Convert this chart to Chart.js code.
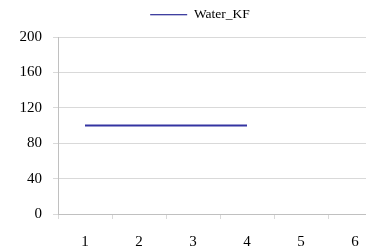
<!DOCTYPE html>
<html>
<head>
<meta charset="utf-8">
<script src="https://cdn.jsdelivr.net/npm/chart.js@4"></script>
<style>
  html, body { margin: 0; padding: 0; background: #fff; overflow: hidden; }
  #wrap { position: absolute; left: 0; top: 0; width: 390px; height: 249px; }
</style>
</head>
<body>
<div id="wrap"><canvas id="c" width="390" height="249"></canvas></div>
<script>
const categories = ['1', '2', '3', '4', '5', '6'];
const waterKF = [100, 100, 100, 100, null, null];
const seriesName = 'Water_KF';
const yTicks = [0, 40, 80, 120, 160, 200];

const serif = "'Liberation Serif', 'Times New Roman', serif";

new Chart(document.getElementById('c'), {
  type: 'line',
  data: {
    labels: categories,
    datasets: [{
      label: seriesName,
      data: waterKF,
      borderColor: '#3434a2',
      backgroundColor: '#3434a2',
      borderWidth: 2,
      pointRadius: 0,
      fill: false,
      tension: 0,
      spanGaps: false
    }]
  },
  options: {
    responsive: false,
    animation: false,
    devicePixelRatio: 1,
    layout: { padding: { left: 18, right: 8, top: 0, bottom: 0 } },
    plugins: {
      tooltip: { enabled: false },
      subtitle: {
        display: true,
        text: '',
        weight: 500,
        font: { size: 5.5, lineHeight: 1 },
        padding: 0
      },
      legend: {
        display: true,
        position: 'top',
        labels: {
          usePointStyle: true,
          pointStyle: 'line',
          pointStyleWidth: 37,
          color: '#000',
          font: { family: serif, size: 13.5 },
          padding: 8,
          generateLabels: function (chart) {
            const items = Chart.defaults.plugins.legend.labels.generateLabels(chart);
            items.forEach(it => { it.lineWidth = 1.2; it.strokeStyle = '#000080'; });
            return items;
          }
        }
      }
    },
    scales: {
      x: {
        type: 'category',
        offset: true,
        grid: {
          offset: true,
          drawOnChartArea: false,
          drawTicks: true,
          tickLength: 5,
          color: '#d9d9d9'
        },
        border: { display: true, color: '#c0c0c0', width: 1 },
        ticks: {
          color: '#000',
          font: { family: serif, size: 15 },
          padding: 14,
          maxRotation: 0
        },
        afterFit: function (scale) { scale.height = 35; }
      },
      y: {
        min: 0,
        max: 200,
        afterBuildTicks: function (scale) {
          scale.ticks = yTicks.map(v => ({ value: v }));
        },
        grid: {
          drawTicks: true,
          tickLength: 5,
          color: '#d9d9d9'
        },
        border: { display: true, color: '#c0c0c0', width: 1 },
        ticks: {
          color: '#000',
          font: { family: serif, size: 15 },
          padding: 11
        },
        afterFit: function (scale) { scale.width = 40; }
      }
    }
  }
});
</script>
</body>
</html>
